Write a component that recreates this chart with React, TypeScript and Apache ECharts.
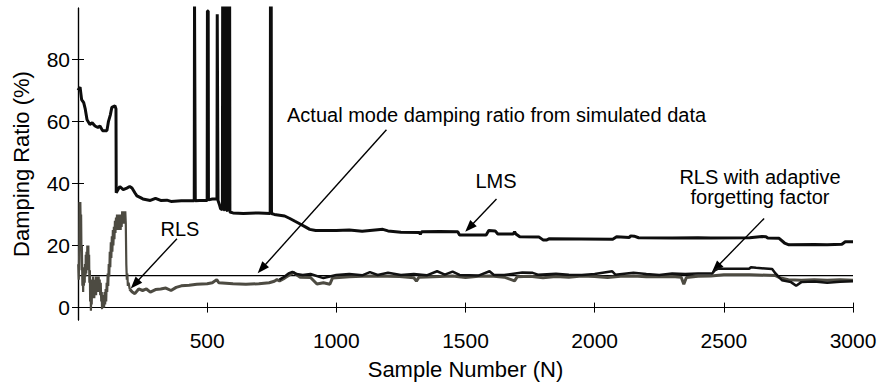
import React, { useEffect, useRef } from "react";
import * as echarts from "echarts";

// ---------- data ----------
const xTickValues = [500, 1000, 1500, 2000, 2500, 3000];
const yTickValues = [0, 20, 40, 60, 80];
const actualDamping = 10.3;

const lmsData: [number, number][] = [
  [0, 70], [8, 71], [14, 67], [22, 66], [28, 64], [35, 60.5], [46, 59], [55, 59.5], [66, 58.5], [77, 58],
  [85, 58.5], [95, 57], [112, 57], [118, 60], [125, 62], [131, 64.5], [143, 65], [147, 64], [148, 37],
  [155, 38], [162, 39], [175, 38], [189, 38.5], [200, 39], [209, 38.5], [220, 37], [228, 36], [240, 35.5],
  [251, 35], [280, 34.5], [300, 35.2], [320, 34.5], [344, 34.6], [360, 34.2], [400, 34.4], [450, 34.4],
  [451, 100], [453, 100], [454, 34.4], [470, 34.5], [500, 34.5], [501, 95.5], [504, 95.5], [505, 34.7],
  [520, 35], [538, 35], [539, 94.5], [541, 94.5], [542, 34.5], [548, 33], [552, 31.8], [559, 31.6],
  [560, 100], [563, 100], [564, 31.5], [567, 31.5], [568, 100], [574, 100], [575, 31.3], [578, 31.3],
  [579, 100], [587, 100], [588, 30.8], [600, 30.5], [640, 30.3], [700, 30.5], [744, 30.3], [745, 100],
  [748, 100], [749, 30.3], [760, 30], [800, 29.5], [820, 28.7], [840, 27.8], [858, 27], [880, 26],
  [897, 25.2], [920, 24.8], [1000, 24.8], [1050, 25], [1100, 24.6], [1180, 25.2], [1200, 24.7],
  [1250, 24.3], [1322, 24.2], [1325, 23.6], [1330, 24.4], [1400, 24.5], [1470, 24.4], [1477, 23.4],
  [1580, 23.4], [1590, 24.8], [1615, 24.7], [1625, 23.7], [1685, 23.7], [1690, 24.4], [1695, 23.7],
  [1710, 22.8], [1785, 22.7], [1800, 21.8], [1815, 21.8], [1825, 22.2], [2070, 22], [2085, 22.8],
  [2134, 22.6], [2140, 23.1], [2153, 23], [2170, 22.5], [2300, 22.4], [2400, 22.5], [2450, 22.4],
  [2600, 22.5], [2648, 22.9], [2663, 22.8], [2670, 22.4], [2714, 22.3], [2735, 20.8], [2752, 20.2],
  [2850, 20.3], [2900, 20.2], [2957, 20.4], [2970, 21.2], [3000, 21.2],
];

// early, strongly oscillating part of the RLS estimate (band envelope)
const rlsEarlyData: [number, number][] = [
  [1, 14], [3, 9], [5, 20], [6, 34], [8, 30], [9, 34], [11, 22], [12, 30], [14, 12], [15, 20],
  [17, 7], [18, 12], [20, 5], [21, 11], [23, 7], [24, 13], [26, 8], [27, 14], [29, 10], [30, 17],
  [32, 11], [33, 18], [35, 12], [36, 20], [38, 14], [40, 20], [41, 13], [43, 17], [44, 8], [46, 12],
  [47, 2], [49, 8], [50, -1], [52, 7], [53, 1], [55, 9], [56, 3], [58, 10], [60, 4], [62, 9],
  [63, 3], [65, 8], [67, 5], [69, 10], [70, 4], [72, 9], [74, 5], [76, 10], [78, 6], [80, 10],
  [82, 5], [84, 9], [86, 4], [88, 8], [90, 2], [92, 5], [93, -0.5], [95, 4], [97, 0], [99, 3],
  [101, 0], [103, 5], [105, 1], [107, 6], [109, 2], [111, 8], [113, 5], [115, 11], [117, 7], [119, 14],
  [121, 10], [123, 18], [125, 13], [127, 21], [129, 16], [131, 23], [133, 18], [135, 25], [137, 20],
  [139, 26], [141, 22], [143, 28], [145, 24], [147, 29], [149, 25], [151, 30], [153, 26], [155, 29],
  [157, 25], [159, 30], [161, 26], [163, 29], [165, 25], [167, 30], [169, 26], [171, 31], [173, 27],
  [175, 30], [177, 27], [179, 31], [181, 28], [183, 31], [185, 27], [187, 14], [189, 9], [191, 11],
  [193, 7], [196, 8], [200, 6],
];

const rlsData: [number, number][] = [
  [200, 6], [210, 5], [220, 4.5], [235, 6], [250, 5.5], [265, 6], [280, 5], [300, 5.8], [320, 6],
  [340, 6.3], [360, 5.5], [380, 6.5], [400, 7], [430, 7.2], [460, 7.5], [500, 7.7], [520, 8], [537, 9],
  [545, 8], [600, 7.7], [650, 7.5], [700, 7.7], [740, 8], [760, 8.5], [770, 9], [780, 8.6], [800, 9.5],
  [820, 10.6], [835, 11.3], [846, 10.6], [860, 9.8], [900, 9.7], [925, 7.6], [950, 8], [975, 7.5],
  [985, 9.5], [1050, 9.9], [1100, 10.1], [1150, 10.2], [1245, 10], [1300, 9.6], [1310, 8.5],
  [1320, 9.8], [1400, 10], [1450, 10.2], [1500, 9.7], [1550, 10.1], [1600, 10.2], [1650, 9.8],
  [1690, 8.6], [1700, 9.9], [1750, 10.1], [1800, 9.6], [1850, 10], [1900, 9.8], [1950, 10.2],
  [2000, 10], [2050, 9.7], [2100, 10.1], [2150, 10.2], [2200, 9.9], [2300, 10], [2335, 9.8],
  [2345, 7.5], [2355, 9.7], [2400, 10.1], [2450, 10.2], [2500, 10.6], [2600, 10.6], [2700, 10.3],
  [2720, 9.5], [2750, 9], [2800, 8.8], [2850, 9], [2900, 8.8], [2950, 9], [3000, 8.8],
];

const rlsAdaptiveData: [number, number][] = [
  [780, 9], [800, 10], [815, 11], [830, 11.5], [846, 10.8], [870, 10.5], [900, 10.8], [950, 9.5],
  [1000, 10.5], [1050, 10.8], [1100, 10.4], [1130, 11.4], [1160, 10.5], [1200, 11.2], [1250, 10.5],
  [1300, 10.8], [1350, 10.4], [1390, 11.7], [1420, 10.6], [1450, 11.6], [1477, 10.5], [1550, 10.3],
  [1593, 11.7], [1610, 10.5], [1650, 10.5], [1720, 11.3], [1760, 11.2], [1780, 10.6], [1850, 10.9],
  [1900, 10.6], [1950, 10.5], [2000, 10.8], [2068, 11.7], [2080, 10.6], [2150, 11.2], [2200, 10.8],
  [2250, 10.5], [2300, 11], [2350, 10.8], [2400, 11], [2455, 11], [2465, 12], [2480, 12.6],
  [2500, 12.5], [2550, 12.5], [2598, 12.5], [2605, 13], [2625, 12.8], [2660, 12.6], [2687, 12.4],
  [2700, 11], [2725, 8.8], [2760, 8.2], [2780, 7], [2800, 8.2], [2850, 8.4], [2900, 8], [2950, 8.3],
  [3000, 8.5],
];

const actualData: [number, number][] = [
  [0, actualDamping],
  [3000, actualDamping],
];

// annotation arrows: [tail, head] in data coordinates
const arrows: [[number, number], [number, number]][] = [
  [[383, 22.2], [220, 7.6]],
  [[1194, 57.3], [711, 12.5]],
  [[1620, 35], [1515, 25.8]],
  [[2656, 28.7], [2470, 12.8]],
];

const FONT = "'Liberation Sans', Arial, Helvetica, sans-serif";
const RLS_COLOR = "#4d4b42";

export default function App() {
  const ref = useRef<HTMLDivElement>(null);

  useEffect(() => {
    if (!ref.current) return;
    const chart = echarts.init(ref.current, undefined, { renderer: "svg" });
    const axisText = { color: "#000", fontFamily: FONT, fontSize: 21 };
    const frameLine = { show: true, lineStyle: { color: "#000", width: 1.2 } };
    const annot = { fontFamily: FONT, fontSize: 20, fill: "#000", verticalAlign: "middle" };

    chart.setOption({
      animation: false,
      backgroundColor: "#fff",
      grid: { left: 78, right: 31, top: 8, bottom: 63, containLabel: false },
      xAxis: [
        {
          type: "value",
          min: 0,
          max: 3000,
          interval: 500,
          position: "bottom",
          axisLine: frameLine,
          axisTick: { show: true, inside: true, length: 5, lineStyle: { color: "#000" } },
          axisLabel: { ...axisText, margin: 10, showMinLabel: false, formatter: (v: number) => (v === 0 ? "" : String(v)) },
          splitLine: { show: false },
          name: "Sample Number (N)",
          nameLocation: "middle",
          nameGap: 38,
          nameTextStyle: { color: "#000", fontFamily: FONT, fontSize: 22 },
        },
        {
          type: "value",
          min: 0,
          max: 3000,
          interval: 500,
          position: "top",
          axisLine: frameLine,
          axisTick: { show: true, inside: true, length: 5, lineStyle: { color: "#000" } },
          axisLabel: { show: false },
          splitLine: { show: false },
        },
      ],
      yAxis: [
        {
          type: "value",
          min: -4,
          max: 96.5,
          position: "left",
          axisLine: frameLine,
          axisTick: { show: true, inside: true, length: 6, customValues: yTickValues, lineStyle: { color: "#000" } },
          axisLabel: { ...axisText, margin: 8, customValues: yTickValues },
          splitLine: { show: false },
          name: "Damping Ratio (%)",
          nameLocation: "middle",
          nameGap: 46,
          nameTextStyle: { color: "#000", fontFamily: FONT, fontSize: 22 },
        },
        {
          type: "value",
          min: -4,
          max: 96.5,
          position: "right",
          axisLine: frameLine,
          axisTick: { show: true, inside: true, length: 6, customValues: yTickValues, lineStyle: { color: "#000" } },
          axisLabel: { show: false, customValues: yTickValues },
          splitLine: { show: false },
        },
      ],
      series: [
        {
          name: "LMS",
          type: "line",
          data: lmsData,
          symbol: "none",
          clip: true,
          lineStyle: { color: "#0d0d0d", width: 3 },
          z: 3,
        },
        {
          name: "Actual",
          type: "line",
          data: actualData,
          symbol: "none",
          lineStyle: { color: "#000", width: 1.3 },
          z: 2,
          markLine: {
            silent: true,
            animation: false,
            symbol: ["none", "triangle"],
            symbolSize: [0, 11],
            label: { show: false },
            lineStyle: { color: "#000", width: 1.4, type: "solid" },
            data: arrows.map(([t, h]) => [
              { coord: t, symbol: "none" },
              { coord: h, symbol: "triangle", symbolSize: [9, 12] },
            ]),
          },
        },
        {
          name: "RLS (early)",
          type: "line",
          data: rlsEarlyData,
          symbol: "none",
          lineStyle: { color: RLS_COLOR, width: 2.2 },
          z: 4,
        },
        {
          name: "RLS",
          type: "line",
          data: rlsData,
          symbol: "none",
          lineStyle: { color: RLS_COLOR, width: 3 },
          z: 4,
        },
        {
          name: "RLS adaptive",
          type: "line",
          data: rlsAdaptiveData,
          symbol: "none",
          lineStyle: { color: "#111", width: 2.5 },
          z: 5,
        },
      ],
      graphic: [
        {
          type: "text",
          x: 287,
          y: 115,
          style: { ...annot, text: "Actual mode damping ratio from simulated data", align: "left" },
        },
        {
          type: "text",
          x: 496,
          y: 181,
          style: { ...annot, text: "LMS", align: "center" },
        },
        {
          type: "text",
          x: 180,
          y: 229,
          style: { ...annot, text: "RLS", align: "center" },
        },
        {
          type: "text",
          x: 760,
          y: 187,
          style: { ...annot, text: "RLS with adaptive\nforgetting factor", lineHeight: 20, align: "center" },
        },
      ],
    });

    return () => chart.dispose();
  }, []);

  return (
    <div
      ref={ref}
      style={{ position: "fixed", left: 0, top: 0, width: 884, height: 385, background: "#fff" }}
    />
  );
}
